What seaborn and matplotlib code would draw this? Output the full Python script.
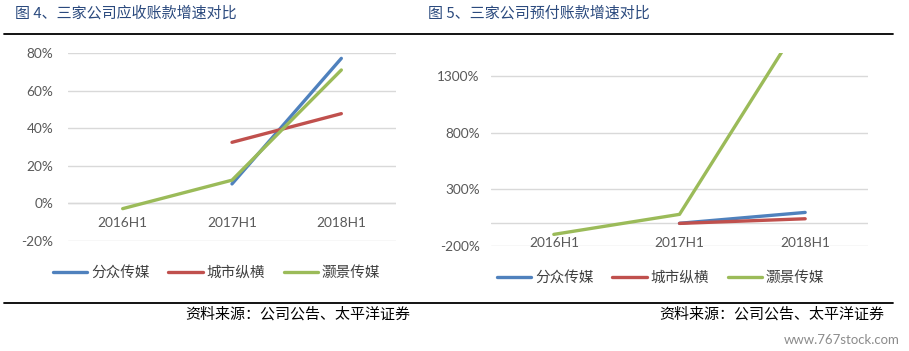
import numpy as np
import pandas as pd
import seaborn as sns
import matplotlib.pyplot as plt

# data (growth, %)
periods = ["2016H1", "2017H1", "2018H1"]
companies = ["分众传媒", "城市纵横", "灏景传媒"]

# 图4 应收账款增速
recv_fenzhong = [np.nan, 10.3, 77.3]
recv_chengshi = [np.nan, 32.5, 47.8]
recv_haojing = [-2.9, 12.3, 71.1]

# 图5 预付账款增速
prepay_fenzhong = [np.nan, -2, 94]
prepay_chengshi = [np.nan, -3, 38]
prepay_haojing = [-100, 77, 1840]

left_ticks = [-20, 0, 20, 40, 60, 80]
right_ticks = [-200, 300, 800, 1300]

colors = ["#4F81BD", "#C0504D", "#9BBB59"]
grid_c = "#D9D9D9"
tick_c = "#595959"
title_c = "#2B4A7E"
cjk = ["Noto Sans CJK SC", "DejaVu Sans"]

sns.set_theme(style="white")
plt.rcParams["font.family"] = ["Lato", "Noto Sans CJK SC", "DejaVu Sans"]

W, H = 909, 351
fig = plt.figure(figsize=(W / 100, H / 100), dpi=100)


def long_table(series):
    rows = []
    for name, vals in zip(companies, series):
        for i, v in enumerate(vals):
            if not np.isnan(v):
                rows.append({"pos": i, "value": v, "company": name})
    return pd.DataFrame(rows)


def draw(rect, series, ylim, yticks, ypad, legend_xy):
    ax = fig.add_axes(rect)
    df = long_table(series)
    sns.lineplot(data=df, x="pos", y="value", hue="company", hue_order=companies,
                 palette=colors, linewidth=2.4, solid_capstyle="round", ax=ax)
    ax.set_xlim(-0.5, 2.5)
    ax.set_ylim(*ylim)
    ax.set_yticks(yticks)
    ax.set_yticklabels([f"{t}%" for t in yticks])
    for t in yticks:
        ax.axhline(t, color=grid_c, lw=1, zorder=0)
    ax.axhline(0, color=grid_c, lw=1, zorder=0)
    ax.set_xticks([])
    ax.set_xlabel("")
    ax.set_ylabel("")
    for i, p in enumerate(periods):
        ax.annotate(p, (i, 0), xytext=(0, -14), textcoords="offset points",
                    ha="center", va="center", fontsize=9.8, color=tick_c)
    ax.tick_params(axis="y", length=0, pad=ypad, labelsize=9.8, labelcolor=tick_c)
    sns.despine(ax=ax, left=True, bottom=True)
    sns.move_legend(ax, "center left", bbox_to_anchor=legend_xy,
                    bbox_transform=fig.transFigure, ncol=3, frameon=False,
                    title=None, borderpad=0, borderaxespad=0,
                    handlelength=2.35, handletextpad=0.25, columnspacing=1.3,
                    prop={"family": cjk, "size": 10.5}, labelcolor="#404040")
    return ax


draw([68 / W, 1 - 240.7 / H, 328 / W, 187.4 / H],
     [recv_fenzhong, recv_chengshi, recv_haojing],
     (-20, 80), left_ticks, 10.5, (53 / W, 1 - 272.7 / H))
draw([491 / W, 1 - 245.7 / H, 377 / W, 192.4 / H],
     [prepay_fenzhong, prepay_chengshi, prepay_haojing],
     (-200, 1500), right_ticks, 8, (497 / W, 1 - 277.7 / H))

# titles and rules
fig.text(15 / W, 1 - 13 / H, "图 4、三家公司应收账款增速对比", family=cjk,
         fontsize=10.8, color=title_c, va="center")
fig.text(428 / W, 1 - 13 / H, "图 5、三家公司预付账款增速对比", family=cjk,
         fontsize=10.8, color=title_c, va="center")
fig.add_artist(plt.Line2D([4 / W, 893 / W], [1 - 34.3 / H] * 2, color="black", lw=1.3))
fig.add_artist(plt.Line2D([4 / W, 893 / W], [1 - 303 / H] * 2, color="black", lw=1.3))

fig.text(185 / W, 1 - 314 / H, "资料来源：公司公告、太平洋证券", family=cjk,
         fontsize=10.8, color="black", va="center")
fig.text(884 / W, 1 - 314 / H, "资料来源：公司公告、太平洋证券", family=cjk,
         fontsize=10.8, color="black", va="center", ha="right")
fig.text(900 / W, 1 - 340 / H, "www.767stock.com", fontsize=9.5, color="#8C8C8C",
         va="center", ha="right")

fig.savefig("out.png", dpi=100)
